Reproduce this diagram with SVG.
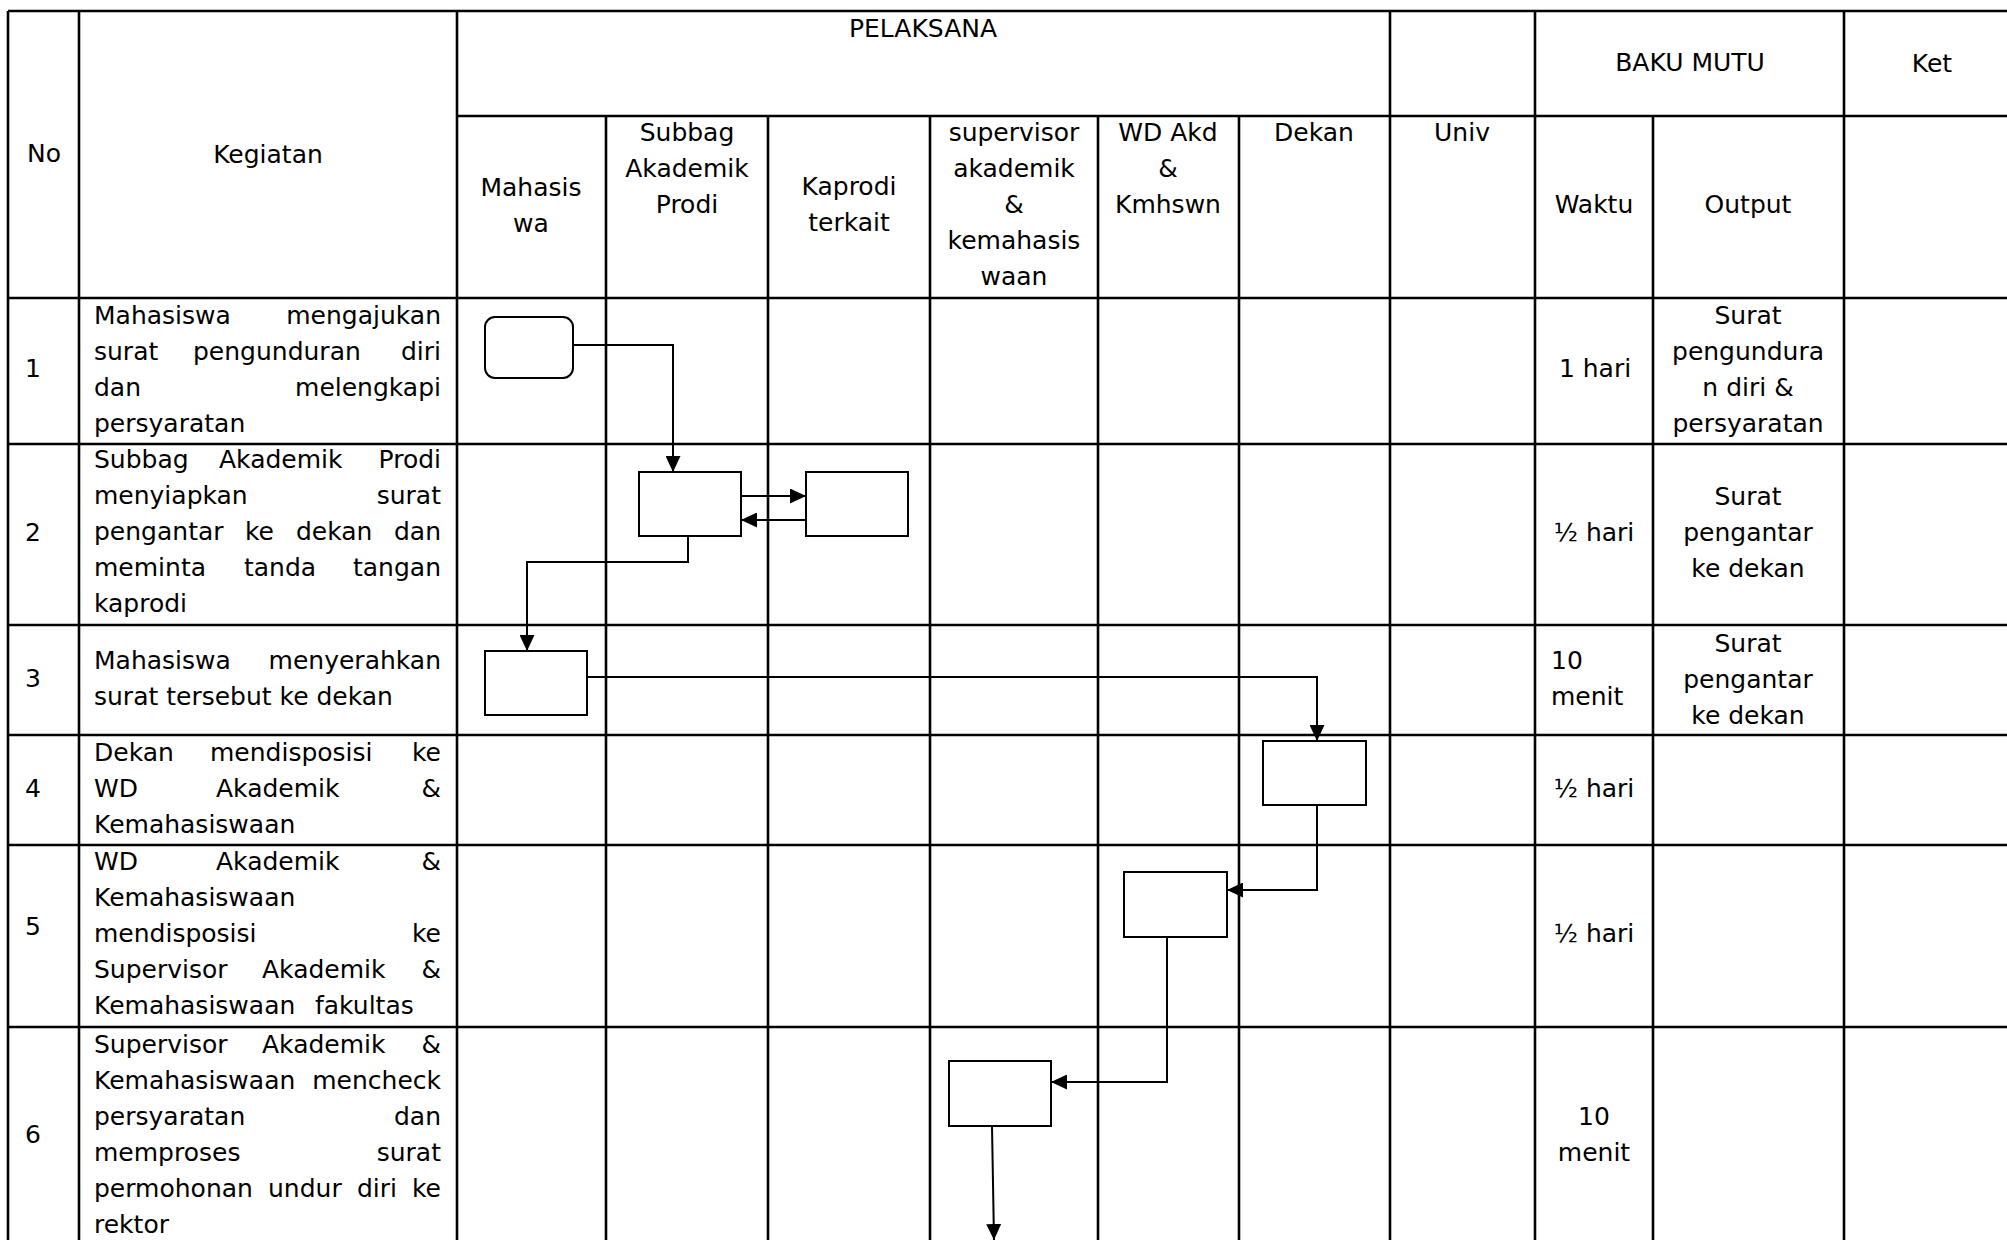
<svg xmlns="http://www.w3.org/2000/svg" width="2007" height="1240" viewBox="0 0 2007 1240">
<style>
.g{stroke:#000;stroke-width:2.6;fill:none}
.t{font-family:"DejaVu Sans","Liberation Sans",sans-serif;font-size:25px;fill:#000}
.c{text-anchor:middle}
.e{text-anchor:end}
.box{fill:#fff;stroke:#000;stroke-width:2}
.cn{fill:none;stroke:#000;stroke-width:2;marker-end:url(#ah)}
</style>
<defs>
<marker id="ah" markerWidth="16" markerHeight="15" refX="16" refY="7.5" orient="auto" markerUnits="userSpaceOnUse"><path d="M0,0 L16,7.5 L0,15 z" fill="#000"/></marker>
</defs>
<rect width="2007" height="1240" fill="#fff"/>
<g id="grid" class="g">
<path d="M8,11 V1250 M79,11 V1250 M457,11 V1250 M1390,11 V1250 M1535,11 V1250 M1844,11 V1250"/>
<path d="M606,116 V1250 M768,116 V1250 M930,116 V1250 M1098,116 V1250 M1239,116 V1250 M1653,116 V1250"/>
<path d="M8,11 H2020 M457,116 H2020 M8,298 H2020 M8,444 H2020 M8,625 H2020 M8,735 H2020 M8,845 H2020 M8,1027 H2020"/>
</g>
<g id="header" class="t">
<text x="44" y="162" class="c">No</text>
<text x="268" y="163" class="c">Kegiatan</text>
<text x="923" y="37" class="c">PELAKSANA</text>
<text x="1690" y="71" class="c">BAKU MUTU</text>
<text x="1932" y="72" class="c">Ket</text>
<text class="c"><tspan x="531" y="196">Mahasis</tspan><tspan x="531" y="232">wa</tspan></text>
<text class="c"><tspan x="687" y="141">Subbag</tspan><tspan x="687" y="177">Akademik</tspan><tspan x="687" y="213">Prodi</tspan></text>
<text class="c"><tspan x="849" y="195">Kaprodi</tspan><tspan x="849" y="231">terkait</tspan></text>
<text class="c"><tspan x="1014" y="141">supervisor</tspan><tspan x="1014" y="177">akademik</tspan><tspan x="1014" y="213">&amp;</tspan><tspan x="1014" y="249">kemahasis</tspan><tspan x="1014" y="285">waan</tspan></text>
<text class="c"><tspan x="1168" y="141">WD Akd</tspan><tspan x="1168" y="177">&amp;</tspan><tspan x="1168" y="213">Kmhswn</tspan></text>
<text x="1314" y="141" class="c">Dekan</text>
<text x="1462" y="141" class="c">Univ</text>
<text x="1594" y="213" class="c">Waktu</text>
<text x="1748" y="213" class="c">Output</text>
</g>
<g id="rows" class="t">
<text x="25" y="377">1</text>
<text x="25" y="541">2</text>
<text x="25" y="687">3</text>
<text x="25" y="797">4</text>
<text x="25" y="935">5</text>
<text x="25" y="1143">6</text>
<text><tspan x="94" y="324">Mahasiswa</tspan><tspan x="441" y="324" class="e">mengajukan</tspan></text>
<text><tspan x="94" y="360">surat</tspan><tspan x="193" y="360">pengunduran</tspan><tspan x="441" y="360" class="e">diri</tspan></text>
<text><tspan x="94" y="396">dan</tspan><tspan x="441" y="396" class="e">melengkapi</tspan></text>
<text x="94" y="432">persyaratan</text>
<text><tspan x="94" y="468">Subbag</tspan><tspan x="219" y="468">Akademik</tspan><tspan x="441" y="468" class="e">Prodi</tspan></text>
<text><tspan x="94" y="504">menyiapkan</tspan><tspan x="441" y="504" class="e">surat</tspan></text>
<text><tspan x="94" y="540">pengantar</tspan><tspan x="245" y="540">ke</tspan><tspan x="296" y="540">dekan</tspan><tspan x="441" y="540" class="e">dan</tspan></text>
<text><tspan x="94" y="576">meminta</tspan><tspan x="244" y="576">tanda</tspan><tspan x="441" y="576" class="e">tangan</tspan></text>
<text x="94" y="612">kaprodi</text>
<text><tspan x="94" y="669">Mahasiswa</tspan><tspan x="441" y="669" class="e">menyerahkan</tspan></text>
<text x="94" y="705">surat tersebut ke dekan</text>
<text><tspan x="94" y="761">Dekan</tspan><tspan x="210" y="761">mendisposisi</tspan><tspan x="441" y="761" class="e">ke</tspan></text>
<text><tspan x="94" y="797">WD</tspan><tspan x="216" y="797">Akademik</tspan><tspan x="441" y="797" class="e">&amp;</tspan></text>
<text x="94" y="833">Kemahasiswaan</text>
<text><tspan x="94" y="870">WD</tspan><tspan x="216" y="870">Akademik</tspan><tspan x="441" y="870" class="e">&amp;</tspan></text>
<text x="94" y="906">Kemahasiswaan</text>
<text><tspan x="94" y="942">mendisposisi</tspan><tspan x="441" y="942" class="e">ke</tspan></text>
<text><tspan x="94" y="978">Supervisor</tspan><tspan x="262" y="978">Akademik</tspan><tspan x="441" y="978" class="e">&amp;</tspan></text>
<text><tspan x="94" y="1014">Kemahasiswaan</tspan><tspan x="315" y="1014">fakultas</tspan></text>
<text><tspan x="94" y="1053">Supervisor</tspan><tspan x="262" y="1053">Akademik</tspan><tspan x="441" y="1053" class="e">&amp;</tspan></text>
<text><tspan x="94" y="1089">Kemahasiswaan</tspan><tspan x="441" y="1089" class="e">mencheck</tspan></text>
<text><tspan x="94" y="1125">persyaratan</tspan><tspan x="441" y="1125" class="e">dan</tspan></text>
<text><tspan x="94" y="1161">memproses</tspan><tspan x="441" y="1161" class="e">surat</tspan></text>
<text><tspan x="94" y="1197">permohonan</tspan><tspan x="268" y="1197">undur</tspan><tspan x="357" y="1197">diri</tspan><tspan x="441" y="1197" class="e">ke</tspan></text>
<text x="94" y="1233">rektor</text>
<text x="1595" y="377" class="c">1 hari</text>
<text class="c"><tspan x="1748" y="324">Surat</tspan><tspan x="1748" y="360">pengundura</tspan><tspan x="1748" y="396">n diri &amp;</tspan><tspan x="1748" y="432">persyaratan</tspan></text>
<text x="1594" y="541" class="c">½ hari</text>
<text class="c"><tspan x="1748" y="505">Surat</tspan><tspan x="1748" y="541">pengantar</tspan><tspan x="1748" y="577">ke dekan</tspan></text>
<text><tspan x="1551" y="669">10</tspan><tspan x="1551" y="705">menit</tspan></text>
<text class="c"><tspan x="1748" y="652">Surat</tspan><tspan x="1748" y="688">pengantar</tspan><tspan x="1748" y="724">ke dekan</tspan></text>
<text x="1594" y="797" class="c">½ hari</text>
<text x="1594" y="942" class="c">½ hari</text>
<text class="c"><tspan x="1594" y="1125">10</tspan><tspan x="1594" y="1161">menit</tspan></text>
</g>
<g id="connectors">
<path class="cn" d="M573,345 H673 V472"/>
<path class="cn" d="M741,496 H806"/>
<path class="cn" d="M806,520 H741"/>
<path class="cn" d="M688,536 V562 H527 V651"/>
<path class="cn" d="M587,677 H1317 V741"/>
<path class="cn" d="M1317,805 V890 H1227"/>
<path class="cn" d="M1167,937 V1082 H1051"/>
<path class="cn" d="M992,1126 L994,1240"/>
</g>
<g id="n1"><rect class="box" x="485" y="317" width="88" height="61" rx="10"/></g>
<g id="n2"><rect class="box" x="639" y="472" width="102" height="64"/></g>
<g id="n3"><rect class="box" x="806" y="472" width="102" height="64"/></g>
<g id="n4"><rect class="box" x="485" y="651" width="102" height="64"/></g>
<g id="n5"><rect class="box" x="1263" y="741" width="103" height="64"/></g>
<g id="n6"><rect class="box" x="1124" y="872" width="103" height="65"/></g>
<g id="n7"><rect class="box" x="949" y="1061" width="102" height="65"/></g>
</svg>
